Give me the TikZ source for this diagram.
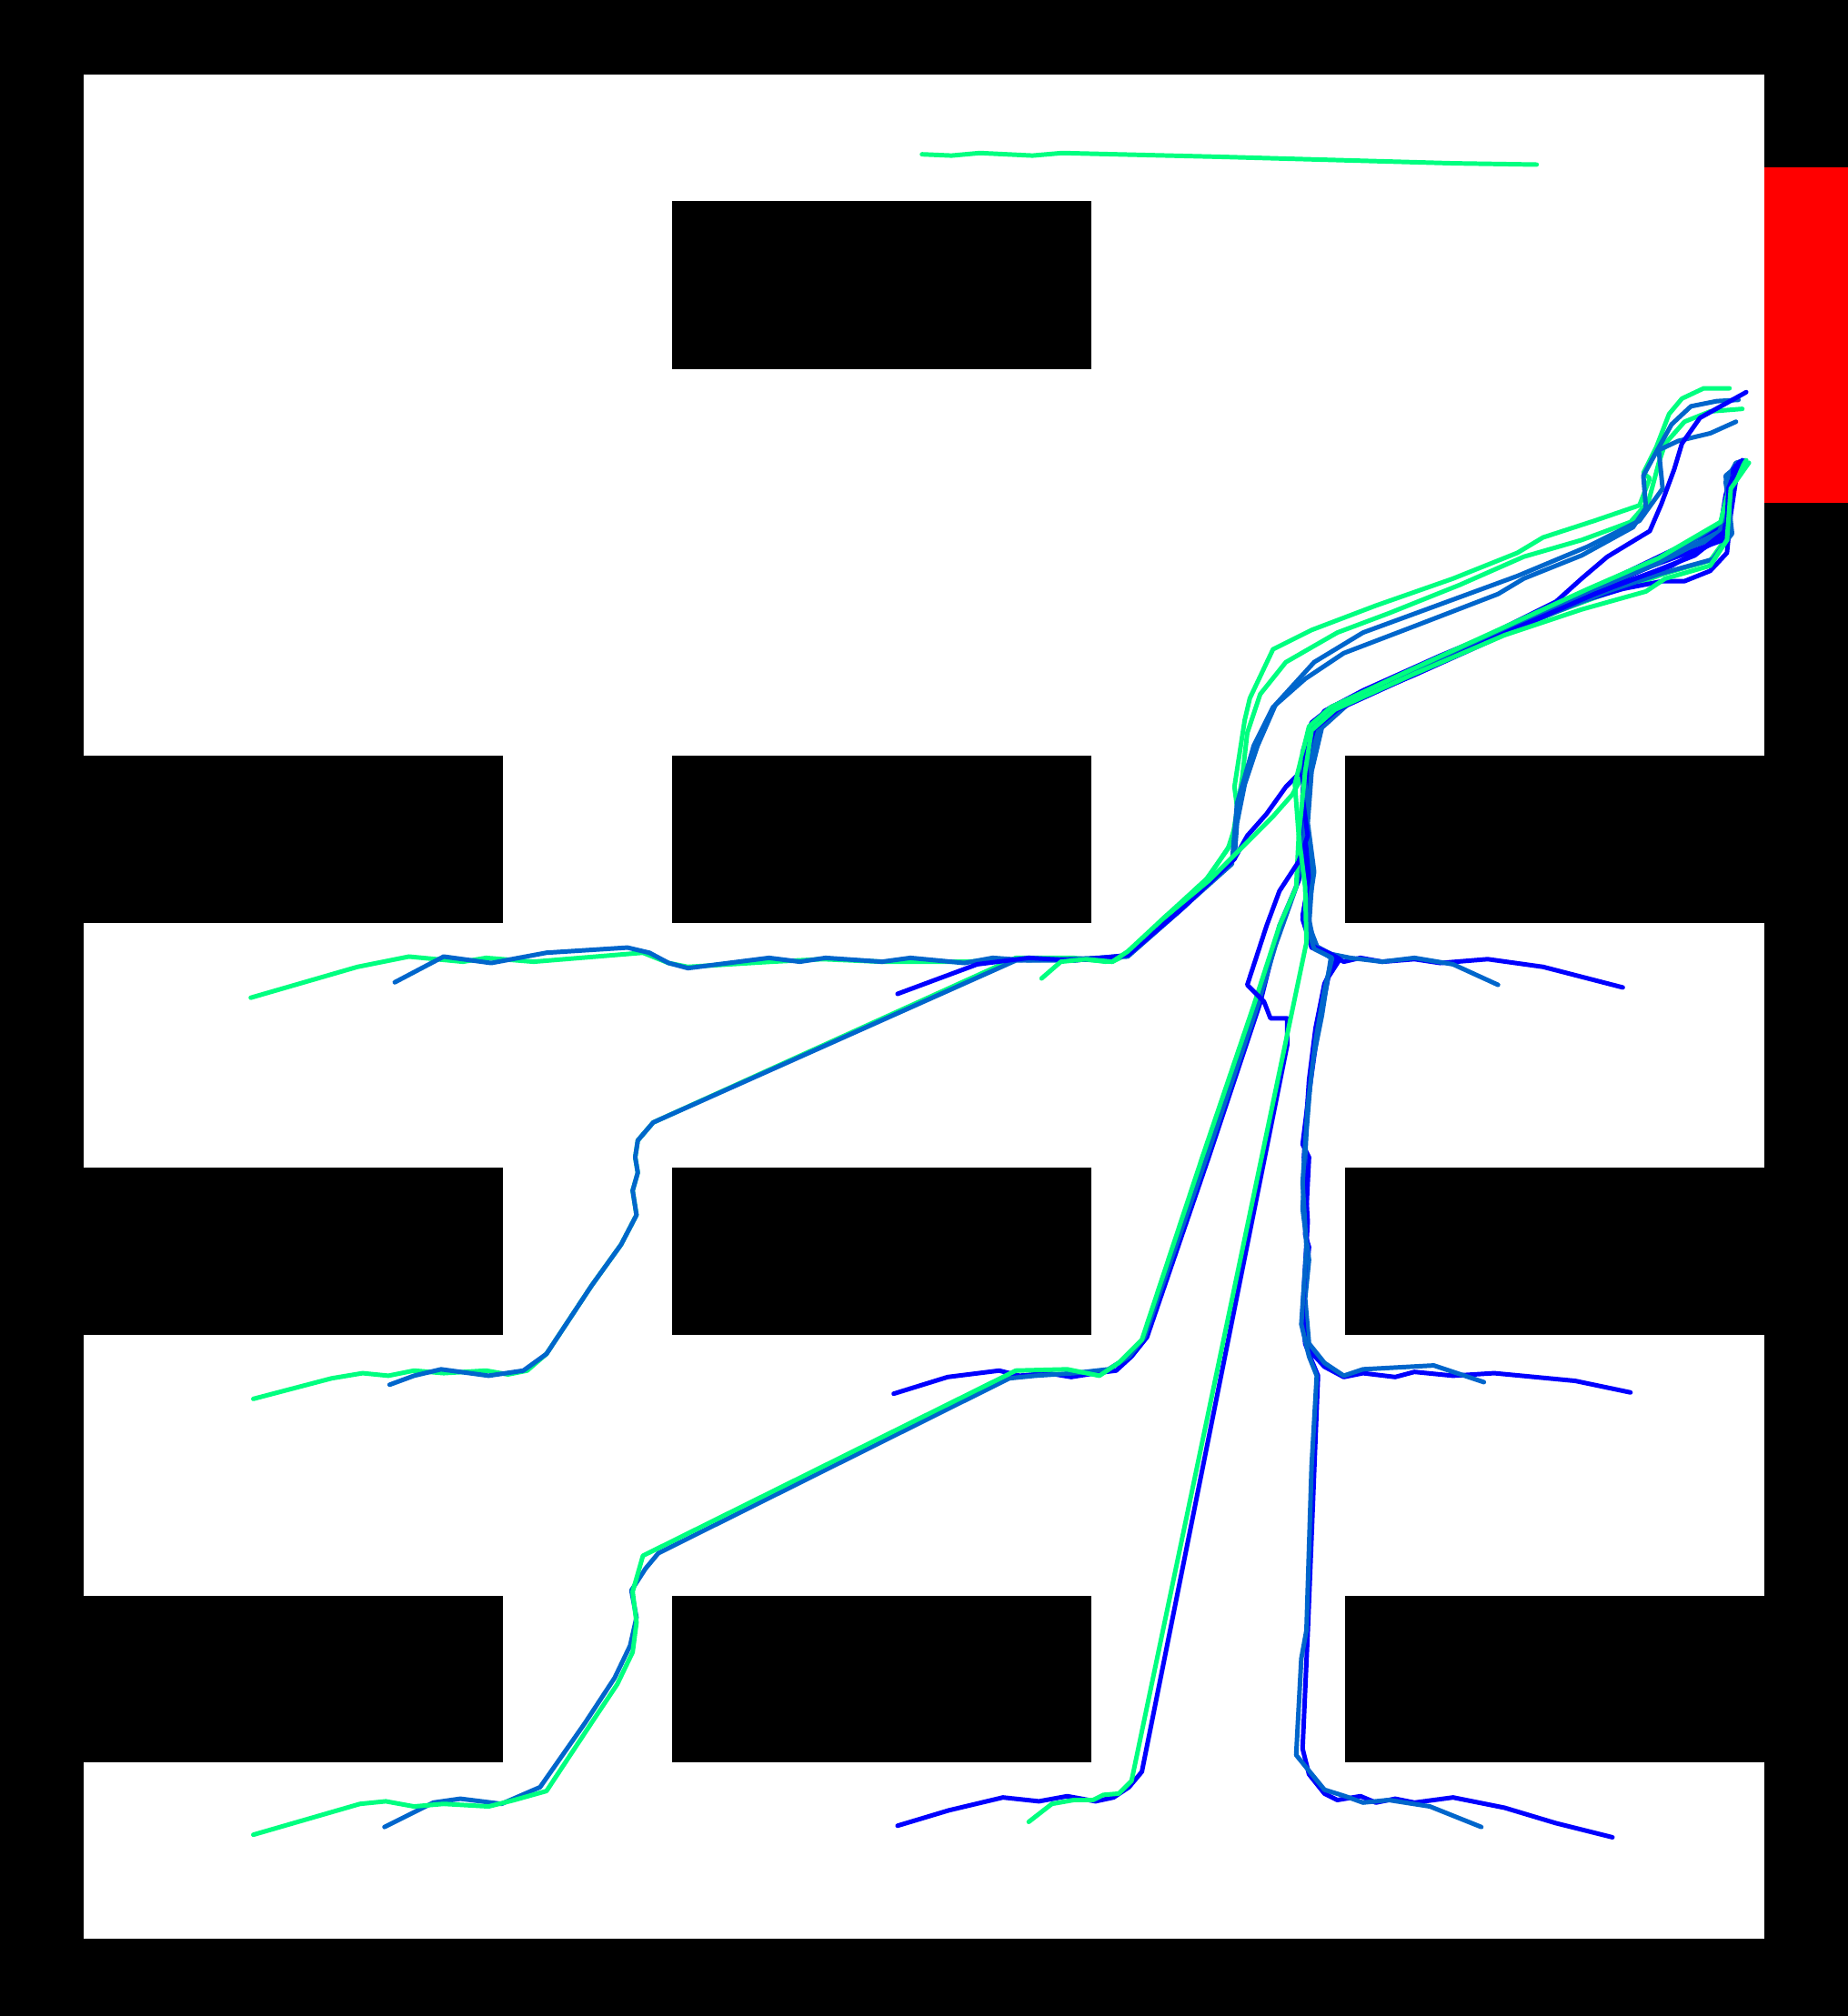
\documentclass[tikz,border=0pt]{standalone}
\usepackage{tikz}
\definecolor{trajgreen}{RGB}{0,255,128}
\definecolor{trajmid}{RGB}{0,102,204}
\definecolor{trajblue}{RGB}{0,0,255}
\definecolor{goalred}{RGB}{255,0,0}

\begin{document}
\begin{tikzpicture}[
  x=0.1mm, y=-0.1mm,
  wall/.style={fill=black},
  traj/.style={line width=1pt, line join=round, line cap=round}
]
% arena
\fill[black] (0,0) rectangle (1437,1568);
\fill[white] (65,58) rectangle (1372,1508);
\fill[goalred] (1372,130) rectangle (1437,391);
% obstacles
\fill[wall] (523,156) rectangle (849,287);
\foreach \y in {588,908,1241}
  \foreach \x in {65,523,1046}
    \fill[wall] (\x,\y) rectangle ++(326,130);

% trajectories
\draw[traj,trajgreen] (717,120) -- (740,121) -- (762,119) -- (803,121) -- (826,119) -- (950,122) -- (1130,127) -- (1195,128);

\draw[traj,trajgreen] (195,776) -- (278,752) -- (318,744) -- (360,748) -- (378,745) -- (415,748) -- (500,741) -- (520,749) -- (535,752) -- (600,748) -- (640,746) -- (686,748) -- (750,748) -- (800,746) -- (840,746) -- (865,748) -- (877,742) -- (905,714) -- (938,684) -- (955,660) -- (963,635) -- (960,612) -- (968,560) -- (972,543) -- (990,505) -- (1020,490) -- (1070,471) -- (1130,450) -- (1180,430) -- (1200,418) -- (1240,405) -- (1275,393) -- (1283,372) -- (1278,368) -- (1288,348) -- (1298,322) -- (1308,310) -- (1325,302) -- (1345,302);

\draw[traj,trajgreen] (197,1088) -- (258,1072) -- (282,1068) -- (302,1070) -- (322,1066) -- (345,1068) -- (378,1066) -- (395,1069) -- (410,1066) -- (425,1053) -- (460,1000) -- (483,968) -- (495,945) -- (492,926) -- (496,912) -- (494,900) -- (496,887) -- (508,873) -- (790,745) -- (835,745) -- (860,748) -- (877,742) -- (908,712) -- (940,682) -- (958,655) -- (966,605) -- (970,570) -- (980,540) -- (1000,515) -- (1040,492) -- (1080,477) -- (1135,455) -- (1185,433) -- (1230,420) -- (1268,406) -- (1282,390) -- (1290,360) -- (1295,345) -- (1310,328) -- (1330,320) -- (1355,318);

\draw[traj,trajmid] (307,764) -- (345,744) -- (382,749) -- (425,741) -- (488,737) -- (505,741) -- (520,749) -- (535,753) -- (598,745) -- (622,748) -- (642,745) -- (686,748) -- (708,745) -- (750,749) -- (772,745) -- (800,747) -- (835,747) -- (877,743) -- (920,706) -- (958,672) -- (962,625) -- (975,580) -- (990,550) -- (1015,528) -- (1045,508) -- (1100,487) -- (1165,462) -- (1185,450) -- (1230,432) -- (1270,410) -- (1280,395) -- (1278,370) -- (1290,348) -- (1300,330) -- (1315,316) -- (1335,312) -- (1352,311);

\draw[traj,trajmid] (303,1077) -- (322,1070) -- (343,1065) -- (380,1070) -- (407,1066) -- (425,1053) -- (460,1000) -- (483,968) -- (495,945) -- (492,926) -- (496,912) -- (494,900) -- (496,887) -- (508,873) -- (790,747) -- (830,746) -- (877,744) -- (918,708) -- (960,668) -- (962,640) -- (968,610) -- (978,580) -- (992,548) -- (1022,515) -- (1060,492) -- (1120,470) -- (1180,448) -- (1235,425) -- (1275,405) -- (1293,380) -- (1290,350) -- (1305,343) -- (1330,337) -- (1350,328);

\draw[traj,trajblue] (698,773) -- (760,750) -- (800,745) -- (835,747) -- (877,743) -- (920,706) -- (960,668) -- (970,650) -- (985,633) -- (1000,612) -- (1015,597) -- (1020,575) -- (1035,555) -- (1070,535) -- (1130,508) -- (1180,483) -- (1210,468) -- (1230,450) -- (1250,433) -- (1283,413) -- (1292,392) -- (1302,365) -- (1308,345) -- (1322,325) -- (1358,305);

\draw[traj,trajgreen] (810,761) -- (825,748) -- (845,746) -- (865,748) -- (877,740) -- (905,714) -- (940,685) -- (965,660) -- (990,635) -- (1005,618) -- (1015,600) -- (1020,570) -- (1035,553) -- (1080,532) -- (1150,502) -- (1210,476) -- (1240,465) -- (1278,452) -- (1295,446) -- (1330,436) -- (1345,415) -- (1345,385) -- (1350,365) -- (1360,360);

\draw[traj,trajblue] (1262,768) -- (1200,752) -- (1157,746) -- (1120,749) -- (1100,746) -- (1075,748) -- (1058,745) -- (1045,748) -- (1035,742) -- (1020,737) -- (1013,715) -- (1017,690) -- (1013,660) -- (1017,630) -- (1012,600) -- (1018,570) -- (1030,553) -- (1060,537) -- (1120,510) -- (1180,485) -- (1230,462) -- (1290,433) -- (1338,410) -- (1342,385) -- (1348,365) -- (1355,358);

\draw[traj,trajmid] (1165,766) -- (1130,750) -- (1100,745) -- (1075,748) -- (1050,745) -- (1035,742) -- (1022,735) -- (1017,710) -- (1020,675) -- (1015,650) -- (1018,620) -- (1015,590) -- (1025,562) -- (1045,548) -- (1100,523) -- (1170,490) -- (1235,460) -- (1290,435) -- (1335,418) -- (1345,395) -- (1342,375) -- (1350,360) -- (1357,358);

\draw[traj,trajblue] (1268,1083) -- (1225,1074) -- (1162,1068) -- (1130,1070) -- (1100,1067) -- (1085,1071) -- (1060,1068) -- (1045,1071) -- (1030,1063) -- (1018,1050) -- (1013,1025) -- (1018,970) -- (1015,960) -- (1018,900) -- (1013,890) -- (1018,850) -- (1025,800) -- (1033,760) -- (1042,746) -- (1035,742) -- (1020,735) -- (1015,710) -- (1018,680) -- (1012,640) -- (1016,605) -- (1022,568) -- (1040,550) -- (1100,522) -- (1160,496) -- (1230,464) -- (1285,440) -- (1340,420) -- (1343,390) -- (1350,362);

\draw[traj,trajmid] (1154,1075) -- (1115,1062) -- (1060,1065) -- (1045,1070) -- (1030,1060) -- (1018,1045) -- (1015,1010) -- (1018,980) -- (1013,940) -- (1016,880) -- (1020,830) -- (1028,790) -- (1035,745) -- (1025,738) -- (1018,720) -- (1020,690) -- (1015,640) -- (1018,600) -- (1026,560) -- (1050,543) -- (1120,513) -- (1200,478) -- (1255,452) -- (1300,433) -- (1340,412) -- (1345,385) -- (1352,362);

\draw[traj,trajblue] (1254,1429) -- (1210,1418) -- (1170,1406) -- (1130,1398) -- (1100,1402) -- (1085,1399) -- (1070,1402) -- (1058,1397) -- (1040,1400) -- (1030,1395) -- (1018,1380) -- (1013,1360) -- (1017,1270) -- (1025,1070) -- (1020,1058) -- (1015,1045) -- (1013,1020) -- (1017,950) -- (1014,900) -- (1018,840) -- (1023,800) -- (1030,765) -- (1040,745) -- (1032,742) -- (1020,735) -- (1013,712) -- (1018,685) -- (1015,650) -- (1018,610) -- (1013,585) -- (1020,562) -- (1035,550) -- (1090,525) -- (1150,500) -- (1215,472) -- (1262,458) -- (1293,452) -- (1310,452) -- (1330,444) -- (1343,430) -- (1346,400) -- (1352,360);

\draw[traj,trajmid] (1152,1421) -- (1112,1405) -- (1080,1400) -- (1060,1402) -- (1046,1397) -- (1030,1392) -- (1008,1365) -- (1012,1290) -- (1016,1268) -- (1020,1140) -- (1024,1070) -- (1018,1055) -- (1012,1030) -- (1016,970) -- (1013,920) -- (1017,860) -- (1023,810) -- (1030,770) -- (1036,745) -- (1022,738) -- (1016,718) -- (1022,678) -- (1017,640) -- (1020,600) -- (1028,566) -- (1048,548) -- (1110,520) -- (1190,484) -- (1250,460) -- (1292,446) -- (1332,435) -- (1347,415) -- (1342,370) -- (1354,360);

\draw[traj,trajblue] (695,1084) -- (737,1071) -- (777,1066) -- (793,1070) -- (815,1068) -- (833,1071) -- (852,1068) -- (868,1066) -- (880,1055) -- (892,1040) -- (940,900) -- (980,780) -- (995,720) -- (1010,685) -- (1015,655) -- (1013,620) -- (1015,595) -- (1022,565) -- (1040,550) -- (1100,525) -- (1160,498) -- (1225,468) -- (1260,454) -- (1300,440) -- (1340,418) -- (1345,390) -- (1348,365) -- (1355,358);

\draw[traj,trajmid] (299,1421) -- (337,1402) -- (358,1399) -- (390,1403) -- (420,1390) -- (455,1340) -- (478,1305) -- (490,1280) -- (495,1258) -- (491,1237) -- (502,1220) -- (512,1208) -- (785,1072) -- (805,1070) -- (835,1068) -- (862,1065) -- (878,1055) -- (890,1040) -- (940,895) -- (978,782) -- (992,735) -- (1008,690) -- (1013,660) -- (1017,625) -- (1013,595) -- (1020,565) -- (1045,548) -- (1105,520) -- (1170,490) -- (1240,458) -- (1290,438) -- (1340,405) -- (1348,370) -- (1357,360);

\draw[traj,trajgreen] (197,1427) -- (280,1403) -- (300,1401) -- (322,1405) -- (345,1403) -- (380,1405) -- (400,1400) -- (425,1393) -- (460,1340) -- (480,1310) -- (492,1285) -- (495,1262) -- (492,1238) -- (500,1210) -- (790,1066) -- (830,1065) -- (855,1070) -- (870,1060) -- (888,1042) -- (935,900) -- (975,782) -- (995,720) -- (1008,690) -- (1010,650) -- (1007,610) -- (1018,565) -- (1035,550) -- (1095,522) -- (1165,490) -- (1235,458) -- (1290,434) -- (1338,406) -- (1345,378) -- (1358,358);

\draw[traj,trajblue] (698,1420) -- (738,1408) -- (780,1398) -- (808,1401) -- (830,1397) -- (852,1401) -- (866,1398) -- (878,1390) -- (888,1378) -- (1001,813) -- (1001,792) -- (988,792) -- (983,779) -- (970,766) -- (985,720) -- (995,693) -- (1010,670) -- (1017,650) -- (1013,620) -- (1015,590) -- (1022,567) -- (1040,552) -- (1110,520) -- (1180,488) -- (1240,462) -- (1285,445) -- (1318,432) -- (1343,412) -- (1344,380) -- (1353,359);

\draw[traj,trajgreen] (800,1417) -- (818,1403) -- (835,1400) -- (850,1400) -- (858,1396) -- (870,1395) -- (880,1385) -- (1016,733) -- (1015,690) -- (1010,650) -- (1015,600) -- (1020,568) -- (1038,552) -- (1100,524) -- (1170,494) -- (1230,474) -- (1280,460) -- (1295,450) -- (1330,440) -- (1343,420) -- (1346,380) -- (1360,360);
\end{tikzpicture}
\end{document}
